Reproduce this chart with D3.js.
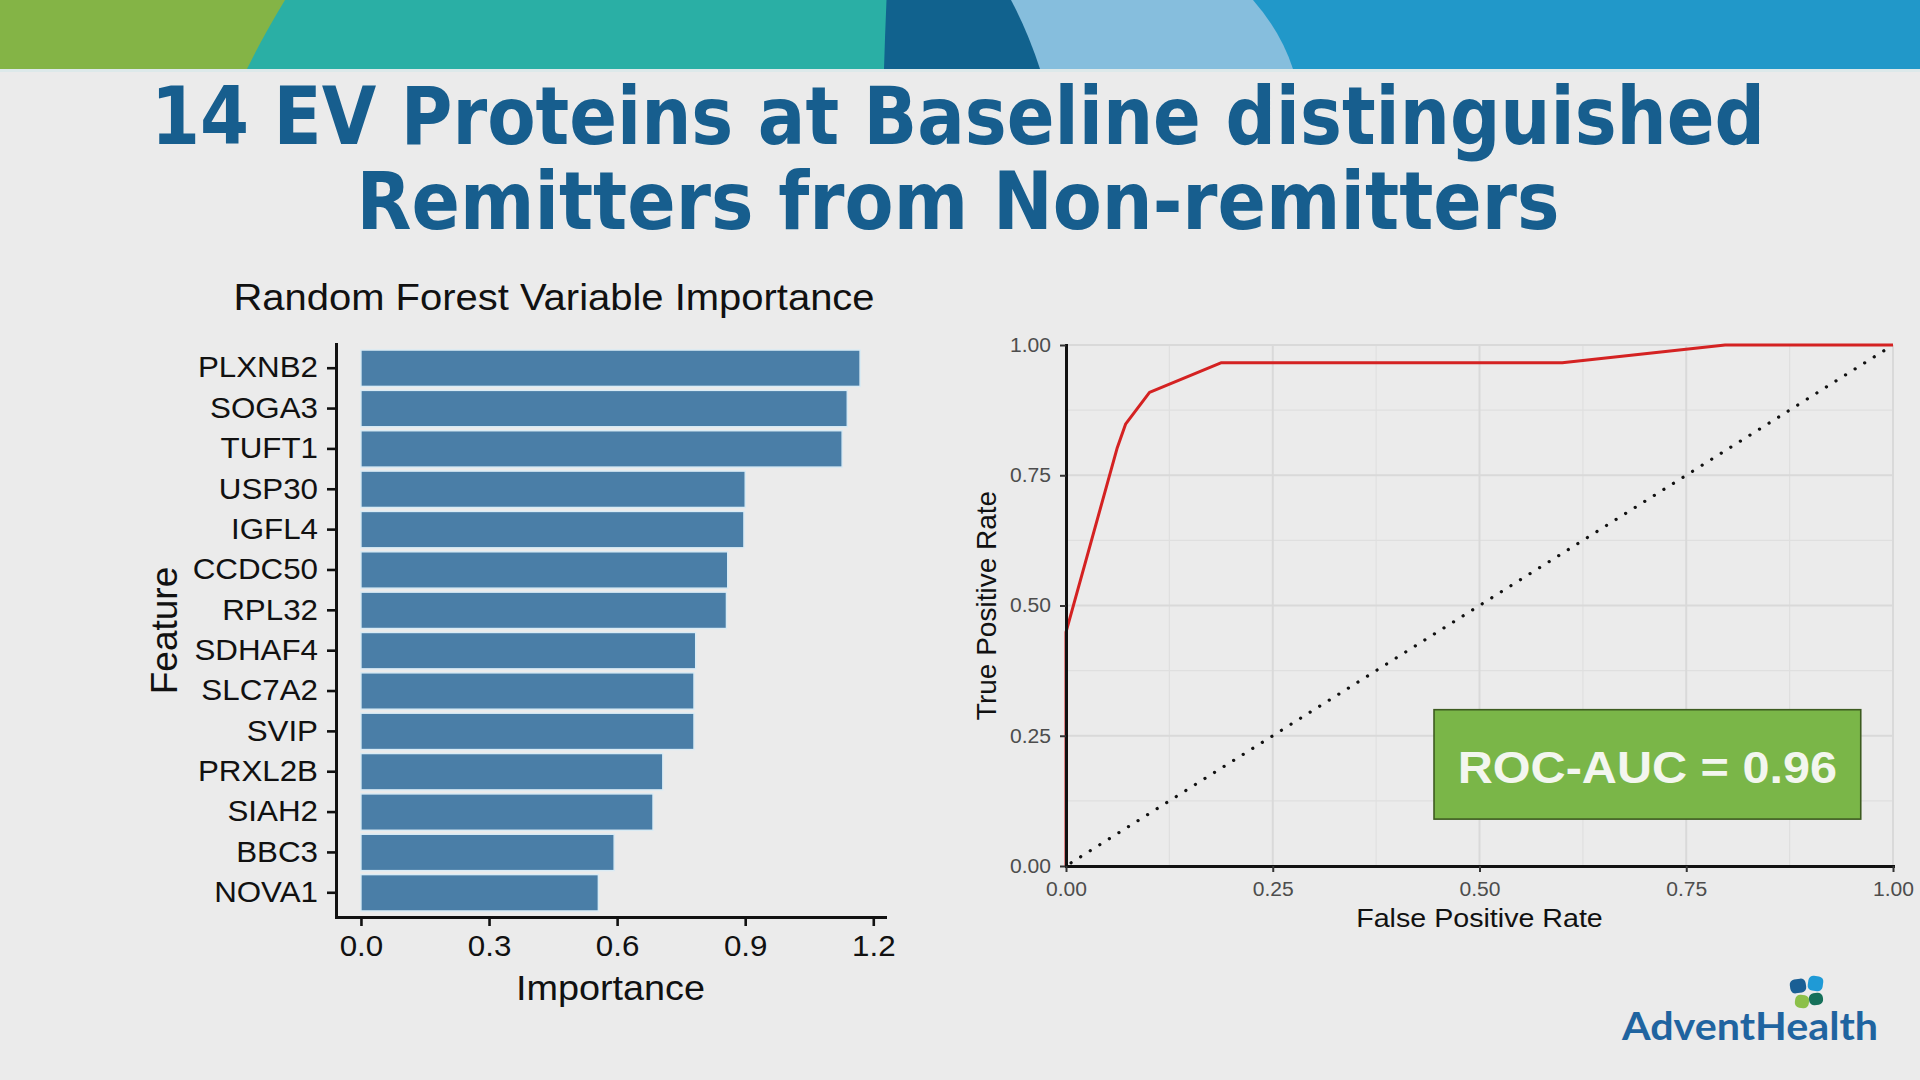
<!DOCTYPE html>
<html>
<head>
<meta charset="utf-8">
<script src="https://cdn.jsdelivr.net/npm/d3@7"></script>
<style>
  html, body { margin: 0; padding: 0; background: #ebebeb; }
  svg { display: block; font-family: "Liberation Sans", Arial, sans-serif; }
</style>
</head>
<body>
<svg id="slide" width="1920" height="1080"></svg>
<script>
// ---- data ----
const titleLines = ['14 EV Proteins at Baseline distinguished', 'Remitters from Non-remitters']

const features = ['PLXNB2', 'SOGA3', 'TUFT1', 'USP30', 'IGFL4', 'CCDC50', 'RPL32',
  'SDHAF4', 'SLC7A2', 'SVIP', 'PRXL2B', 'SIAH2', 'BBC3', 'NOVA1']
const importance = [1.169, 1.139, 1.127, 0.900, 0.897, 0.859, 0.856,
  0.784, 0.780, 0.780, 0.707, 0.684, 0.593, 0.556]
const importanceTicks = [0, 0.3, 0.6, 0.9, 1.2]

const fpr = [0, 0, 0.062, 0.072, 0.101, 0.188, 0.600, 0.797, 1.0]
const tpr = [0, 0.449, 0.803, 0.848, 0.909, 0.966, 0.966, 1.0, 1.0]
const rocTicks = [0, 0.25, 0.5, 0.75, 1]
const rocMinor = [0.125, 0.375, 0.625, 0.875]
const aucValue = 0.96

// the slide is a little wider than the fonts, so widen horizontal text
const STRETCH = 1.08

let svg = d3.select('#slide')

function stretch(sel, k) {
  sel.each(function() {
    let len = this.getComputedTextLength()
    d3.select(this).attr('textLength', len * k).attr('lengthAdjust', 'spacingAndGlyphs')
  })
}

// ---- banner ----
let banner = svg.append('g').attr('class', 'banner')
banner.append('rect').attr('x', 0).attr('y', 0).attr('width', 1920).attr('height', 69).attr('fill', '#2198c9')
banner.append('rect').attr('x', 0).attr('y', 69).attr('width', 1920).attr('height', 3).attr('fill', '#dde9ea')
let bands = [
  { top: 1253, ctrl: [1281, 32], bottom: 1293, color: '#86bedd' },
  { top: 1011, ctrl: [1028, 32], bottom: 1040, color: '#11628e' },
  { top: 886.5, ctrl: [885, 35], bottom: 884, color: '#2aafa5' },
  { top: 285, ctrl: [262, 38], bottom: 247, color: '#84b446' }
]
banner.selectAll('path').data(bands).enter().append('path')
  .attr('d', d => `M0,0 L${ d.top },0 Q${ d.ctrl[0] },${ d.ctrl[1] } ${ d.bottom },69 L0,69 Z`)
  .attr('fill', d => d.color)

// ---- slide title ----
svg.append('g').attr('class', 'title')
  .selectAll('text').data(titleLines).enter().append('text')
    .attr('x', 958)
    .attr('y', (d, i) => 143.5 + i * 85)
    .attr('text-anchor', 'middle')
    .attr('font-family', '"DejaVu Sans", Verdana, sans-serif')
    .attr('font-weight', 'bold')
    .attr('font-size', 80)
    .attr('fill', '#175e8e')
    .attr('textLength', (d, i) => i === 0 ? 1614 : 1203)
    .attr('lengthAdjust', 'spacingAndGlyphs')
    .text(d => d)

// ---- variable importance bar chart ----
let bar = svg.append('g').attr('class', 'importance')

let maxImp = d3.max(importance)
let x = d3.scaleLinear()
  .domain([-0.05 * maxImp, maxImp * 1.05])
  .range([336, 885])

let y = d3.scaleBand()
  .domain(features)
  .range([344, 917])
  .paddingInner(0.1)
  .paddingOuter(0.15)

bar.selectAll('rect.bar').data(features).enter().append('rect')
  .attr('class', 'bar')
  .attr('x', x(0))
  .attr('y', d => y(d))
  .attr('width', (d, i) => x(importance[i]) - x(0))
  .attr('height', y.bandwidth())
  .attr('fill', '#4a7ea7')
  .attr('stroke', '#d9ebf5')
  .attr('stroke-width', 1.4)

let yAxis = bar.append('g')
  .attr('transform', `translate(${ x.range()[0] },0)`)
  .call(d3.axisLeft(y).tickSize(9).tickSizeOuter(0).tickPadding(9))
let xAxis = bar.append('g')
  .attr('transform', `translate(0,${ y.range()[1] })`)
  .call(d3.axisBottom(x).tickValues(importanceTicks).tickFormat(d3.format('.1f'))
    .tickSize(9).tickSizeOuter(0).tickPadding(9))

;[yAxis, xAxis].forEach(a => {
  a.select('.domain').attr('stroke', '#111').attr('stroke-width', 3).attr('stroke-linecap', 'square')
  a.selectAll('.tick line').attr('stroke', '#111').attr('stroke-width', 2.6)
  a.selectAll('.tick text')
    .attr('font-family', '"Liberation Sans", Arial, sans-serif')
    .attr('font-size', 29)
    .attr('fill', '#111')
})

bar.append('text')
  .attr('class', 'st')
  .attr('x', 554).attr('y', 310)
  .attr('text-anchor', 'middle')
  .attr('font-size', 37)
  .attr('fill', '#111')
  .text('Random Forest Variable Importance')

bar.append('text')
  .attr('class', 'st')
  .attr('x', (x.range()[0] + x.range()[1]) / 2).attr('y', 1000)
  .attr('text-anchor', 'middle')
  .attr('font-size', 35)
  .attr('fill', '#111')
  .text('Importance')

bar.append('text')
  .attr('transform', `translate(177,${ (y.range()[0] + y.range()[1]) / 2 }) rotate(-90)`)
  .attr('text-anchor', 'middle')
  .attr('font-size', 37)
  .attr('fill', '#111')
  .text('Feature')

// ---- ROC curve ----
let roc = svg.append('g').attr('class', 'roc')

let rx = d3.scaleLinear().domain([0, 1]).range([1066, 1893])
let ry = d3.scaleLinear().domain([0, 1]).range([866, 345])

let grid = roc.append('g').attr('class', 'grid')
grid.selectAll('line.minor-v').data(rocMinor).enter().append('line')
  .attr('x1', d => rx(d)).attr('x2', d => rx(d)).attr('y1', ry(0)).attr('y2', ry(1))
  .attr('stroke', '#dfdfdf').attr('stroke-width', 1.2)
grid.selectAll('line.minor-h').data(rocMinor).enter().append('line')
  .attr('y1', d => ry(d)).attr('y2', d => ry(d)).attr('x1', rx(0)).attr('x2', rx(1))
  .attr('stroke', '#dfdfdf').attr('stroke-width', 1.2)
grid.selectAll('line.major-v').data(rocTicks).enter().append('line')
  .attr('x1', d => rx(d)).attr('x2', d => rx(d)).attr('y1', ry(0)).attr('y2', ry(1))
  .attr('stroke', '#d9d9d9').attr('stroke-width', 2)
grid.selectAll('line.major-h').data(rocTicks).enter().append('line')
  .attr('y1', d => ry(d)).attr('y2', d => ry(d)).attr('x1', rx(0)).attr('x2', rx(1))
  .attr('stroke', '#d9d9d9').attr('stroke-width', 2)

roc.append('path')
  .datum([[0, 0], [1, 1]])
  .attr('d', d3.line().x(d => rx(d[0])).y(d => ry(d[1])))
  .attr('fill', 'none')
  .attr('stroke', '#111')
  .attr('stroke-width', 3.2)
  .attr('stroke-linecap', 'round')
  .attr('stroke-dasharray', '0.1 11.2')
  .attr('stroke-dashoffset', -6)

roc.append('path')
  .datum(fpr.map((f, i) => [f, tpr[i]]))
  .attr('d', d3.line().x(d => rx(d[0])).y(d => ry(d[1])))
  .attr('fill', 'none')
  .attr('stroke', '#d42222')
  .attr('stroke-width', 3)
  .attr('stroke-linejoin', 'round')

let ryAxis = roc.append('g')
  .attr('transform', `translate(${ rx(0) },0)`)
  .call(d3.axisLeft(ry).tickValues(rocTicks).tickFormat(d3.format('.2f'))
    .tickSize(6).tickSizeOuter(0).tickPadding(9))
let rxAxis = roc.append('g')
  .attr('transform', `translate(0,${ ry(0) })`)
  .call(d3.axisBottom(rx).tickValues(rocTicks).tickFormat(d3.format('.2f'))
    .tickSize(6).tickSizeOuter(0).tickPadding(10))

;[ryAxis, rxAxis].forEach(a => {
  a.select('.domain').attr('stroke', '#111').attr('stroke-width', 3).attr('stroke-linecap', 'square')
  a.selectAll('.tick line').attr('stroke', '#333').attr('stroke-width', 2)
  a.selectAll('.tick text')
    .attr('class', 'st')
    .attr('font-family', '"Liberation Sans", Arial, sans-serif')
    .attr('font-size', 19.5)
    .attr('fill', '#4d4d4d')
})

roc.append('text')
  .attr('class', 'st')
  .attr('x', (rx.range()[0] + rx.range()[1]) / 2).attr('y', 927)
  .attr('text-anchor', 'middle')
  .attr('font-size', 26.5)
  .attr('fill', '#111')
  .text('False Positive Rate')

roc.append('text')
  .attr('transform', `translate(996,${ (ry.range()[0] + ry.range()[1]) / 2 }) rotate(-90)`)
  .attr('text-anchor', 'middle')
  .attr('font-size', 28)
  .attr('fill', '#111')
  .text('True Positive Rate')

// AUC label box
let box = roc.append('g').attr('class', 'auc')
box.append('rect')
  .attr('x', rx(0.445)).attr('y', ry(0.30))
  .attr('width', rx(0.961) - rx(0.445)).attr('height', ry(0.09) - ry(0.30))
  .attr('fill', '#7ab648')
  .attr('stroke', '#3d5b20')
  .attr('stroke-width', 1.6)
box.append('text')
  .attr('class', 'st')
  .attr('x', rx((0.445 + 0.961) / 2)).attr('y', 783)
  .attr('text-anchor', 'middle')
  .attr('font-weight', 'bold')
  .attr('font-size', 45)
  .attr('fill', '#f3f6ef')
  .text(`ROC-AUC = ${ aucValue.toFixed(2) }`)

// ---- logo ----
let logo = svg.append('g').attr('class', 'logo')
let petals = [
  { x: 1790, y: 979, w: 16, h: 14, r: -8, c: '#1a5f95' },
  { x: 1808, y: 976, w: 15, h: 15, r: 8, c: '#1f9ad6' },
  { x: 1795, y: 995, w: 14, h: 13, r: 8, c: '#8cc04a' },
  { x: 1809, y: 993, w: 14, h: 12, r: -8, c: '#16705a' }
]
logo.selectAll('rect').data(petals).enter().append('rect')
  .attr('x', d => d.x).attr('y', d => d.y)
  .attr('width', d => d.w).attr('height', d => d.h)
  .attr('rx', 5)
  .attr('transform', d => `rotate(${ d.r },${ d.x + d.w / 2 },${ d.y + d.h / 2 })`)
  .attr('fill', d => d.c)
logo.append('text')
  .attr('x', 1622).attr('y', 1040)
  .attr('font-family', 'Lato, "Open Sans", sans-serif')
  .attr('font-weight', 'bold')
  .attr('font-size', 39)
  .attr('fill', '#1f64a0')
  .attr('textLength', 256)
  .attr('lengthAdjust', 'spacingAndGlyphs')
  .text('AdventHealth')

// widen horizontal chart text to match the slide
stretch(svg.selectAll('text.st'), STRETCH)
stretch(yAxis.selectAll('.tick text'), STRETCH)
stretch(xAxis.selectAll('.tick text'), STRETCH)
</script>
</body>
</html>
